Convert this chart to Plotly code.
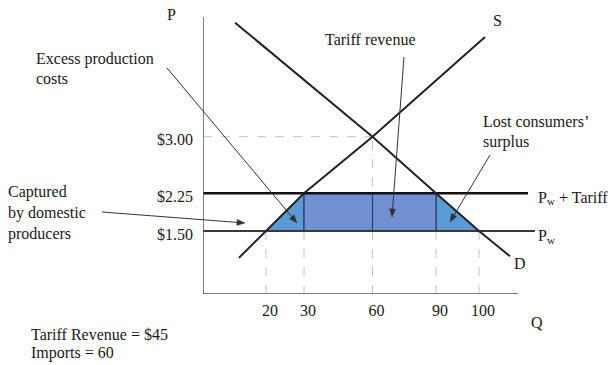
import numpy as np
import plotly.graph_objects as go

# ---------------- data (economic values) ----------------
quantity_ticks = [20, 30, 60, 90, 100]
quantity_labels = ["20", "30", "60", "90", "100"]
price_ticks = [1.50, 2.25, 3.00]
price_labels = ["$1.50", "$2.25", "$3.00"]

world_price = 1.50          # P_w
tariff_price = 2.25         # P_w + Tariff
equilibrium_q = 60
equilibrium_p = 3.00

domestic_q_world = 20       # domestic supply at P_w
domestic_q_tariff = 30      # domestic supply at P_w + Tariff
demand_q_tariff = 90        # demand at P_w + Tariff
demand_q_world = 100        # demand at P_w

supply_q = [11.4, 20, 30, 60, 101.4]
supply_p = [0.86, 1.50, 2.25, 3.00, 4.32]
demand_q = [10.2, 60, 90, 100, 107.2]
demand_p = [4.51, 3.00, 2.25, 1.50, 0.90]

price_line_end_q = [113, 111.4]   # right ends of the P_w and P_w+Tariff lines

# ---------------- schematic (non-uniform) scale of the original drawing ----------------
SCALE_Q = [0, 20, 30, 60, 90, 100]
SCALE_X = [0, 63, 101, 169.5, 233, 276]
SCALE_P = [0, 1.50, 2.25, 3.00]
SCALE_Y = [0, 63, 100.7, 157.3]

ORIGIN_X, ORIGIN_Y = 203, 294     # pixel of the axes origin
AXIS_X_LEN, AXIS_Y_LEN = 315, 277
X_RANGE = 340


def warp(v, src, dst):
    v = np.atleast_1d(np.asarray(v, dtype=float))
    out = np.interp(v, src, dst)
    hs = (dst[-1] - dst[-2]) / (src[-1] - src[-2])
    ls = (dst[1] - dst[0]) / (src[1] - src[0])
    hi = v > src[-1]
    lo = v < src[0]
    out[hi] = dst[-1] + (v[hi] - src[-1]) * hs
    out[lo] = dst[0] + (v[lo] - src[0]) * ls
    return out


def X(q):
    return warp(q, SCALE_Q, SCALE_X)


def Y(p):
    return warp(p, SCALE_P, SCALE_Y)


def to_paper(xp, yp):
    return (xp - ORIGIN_X) / X_RANGE, (ORIGIN_Y - yp) / AXIS_Y_LEN


FONT = "Liberation Serif, Times New Roman, serif"
FS = 16
TXT = "#1a1a1a"

fig = go.Figure()

# dashed guide lines
dash = dict(color="#c4c4c4", width=1, dash="dash")
guide_tops = [world_price, tariff_price, equilibrium_p, tariff_price, world_price]
for q, ptop in zip(quantity_ticks, guide_tops):
    fig.add_trace(go.Scatter(x=X([q, q]), y=Y([0, ptop]), mode="lines", line=dash,
                             hoverinfo="skip", showlegend=False))
fig.add_trace(go.Scatter(x=X([0, equilibrium_q]), y=Y([equilibrium_p, equilibrium_p]),
                         mode="lines", line=dash, hoverinfo="skip", showlegend=False))

# shaded areas
tri_col = "#5B9BD5"
rect_col = "#7190D3"
edge = "#2b3a66"
fig.add_trace(go.Scatter(
    x=X([domestic_q_world, domestic_q_tariff, domestic_q_tariff, domestic_q_world]),
    y=Y([world_price, tariff_price, world_price, world_price]),
    fill="toself", fillcolor=tri_col, mode="lines", line=dict(color=edge, width=1),
    hoverinfo="skip", showlegend=False))
fig.add_trace(go.Scatter(
    x=X([demand_q_tariff, demand_q_world, demand_q_tariff, demand_q_tariff]),
    y=Y([tariff_price, world_price, world_price, tariff_price]),
    fill="toself", fillcolor=tri_col, mode="lines", line=dict(color=edge, width=1),
    hoverinfo="skip", showlegend=False))
fig.add_trace(go.Scatter(
    x=X([domestic_q_tariff, demand_q_tariff, demand_q_tariff, domestic_q_tariff, domestic_q_tariff]),
    y=Y([world_price, world_price, tariff_price, tariff_price, world_price]),
    fill="toself", fillcolor=rect_col, mode="lines", line=dict(color=edge, width=1.2),
    hoverinfo="skip", showlegend=False))
fig.add_trace(go.Scatter(
    x=X([equilibrium_q, equilibrium_q]), y=Y([world_price, tariff_price]),
    mode="lines", line=dict(color=edge, width=1.2), hoverinfo="skip", showlegend=False))

# price lines
fig.add_trace(go.Scatter(x=X([0, price_line_end_q[0]]), y=Y([world_price, world_price]),
                         mode="lines", line=dict(color="#3a3a3a", width=2),
                         hoverinfo="skip", showlegend=False))
fig.add_trace(go.Scatter(x=X([0, price_line_end_q[1]]), y=Y([tariff_price, tariff_price]),
                         mode="lines", line=dict(color="#111111", width=2.5),
                         hoverinfo="skip", showlegend=False))

# supply and demand
fig.add_trace(go.Scatter(x=X(supply_q), y=Y(supply_p), mode="lines",
                         line=dict(color="#222222", width=2), name="S",
                         hoverinfo="skip", showlegend=False))
fig.add_trace(go.Scatter(x=X(demand_q), y=Y(demand_p), mode="lines",
                         line=dict(color="#222222", width=2), name="D",
                         hoverinfo="skip", showlegend=False))

# axes lines
fig.add_shape(type="line", xref="x", yref="y", x0=0, x1=AXIS_X_LEN, y0=0, y1=0,
              line=dict(color="#555555", width=1.5))
fig.add_shape(type="line", xref="x", yref="y", x0=0, x1=0, y0=0, y1=AXIS_Y_LEN,
              line=dict(color="#555555", width=1.5))

annotations = []


def label(text, xp, yp, xanchor="left", yanchor="middle", size=FS):
    x, y = to_paper(xp, yp)
    annotations.append(dict(text=text, x=x, y=y, xref="paper", yref="paper", showarrow=False,
                            xanchor=xanchor, yanchor=yanchor, align="left",
                            font=dict(family=FONT, size=size, color=TXT)))


ARROW_COL = "#333333"


def arrow(tail, head, head_len=8.0, head_half=3.0):
    """pointer line + filled arrow head (pixel positions of the picture)"""
    tx, ty = tail
    hx, hy = head
    d = np.array([hx - tx, hy - ty], dtype=float)
    d /= np.hypot(*d)
    n = np.array([-d[1], d[0]])
    base = np.array([hx, hy]) - d * head_len
    p1 = base + n * head_half
    p2 = base - n * head_half
    x0, y0 = to_paper(tx, ty)
    x1, y1 = to_paper(*(base + d * 1.0))
    fig.add_shape(type="line", xref="paper", yref="paper", x0=x0, y0=y0, x1=x1, y1=y1,
                  line=dict(color=ARROW_COL, width=1))
    pts = [to_paper(hx, hy), to_paper(*p1), to_paper(*p2)]
    path = "M {} {} L {} {} L {} {} Z".format(*[c for p in pts for c in p])
    fig.add_shape(type="path", xref="paper", yref="paper", path=path,
                  fillcolor=ARROW_COL, line=dict(color=ARROW_COL, width=0.5))


tariff = tariff_price - world_price
imports = demand_q_tariff - domestic_q_tariff
revenue = tariff * imports

label("P", 171, 14, xanchor="center")
label("Q", 537, 322, xanchor="center")
label("S", 497, 20, xanchor="center")
label("D", 520, 263, xanchor="center")
label("Excess production", 34, 59)
label("costs", 34, 78)
label("Tariff revenue", 370, 40, xanchor="center")
label("Lost consumers’", 481, 122)
label("surplus", 481, 142)
label("Captured", 6, 192)
label("by domestic", 6, 213)
label("producers", 6, 234)
# "P_w + Tariff" and "P_w" (subscript drawn as a smaller, lowered label)
label("P", 536, 197)
label("w", 545, 201.5, size=11)
label("+ Tariff", 557, 197)
label("P", 536, 235)
label("w", 545, 239.5, size=11)
label(f"Tariff Revenue = ${revenue:.0f}", 29, 334)
label(f"Imports = {imports}", 29, 353)

arrow((167, 68), (297, 223))
arrow((404, 57), (392, 217))
arrow((490, 155), (450, 222))
arrow((102, 212), (245, 223))

fig.update_layout(
    width=612, height=365,
    margin=dict(l=ORIGIN_X, r=612 - ORIGIN_X - X_RANGE, t=ORIGIN_Y - AXIS_Y_LEN, b=365 - ORIGIN_Y),
    paper_bgcolor="white", plot_bgcolor="white",
    annotations=annotations,
    xaxis=dict(range=[0, X_RANGE], showgrid=False, zeroline=False, showline=False,
               tickmode="array", tickvals=X(quantity_ticks), ticktext=quantity_labels,
               ticks="", tickfont=dict(family=FONT, size=FS, color=TXT),
               ticklabelstandoff=5, ticklabelshift=4, fixedrange=True),
    yaxis=dict(range=[0, AXIS_Y_LEN], showgrid=False, zeroline=False, showline=False,
               tickmode="array", tickvals=Y(price_ticks), ticktext=price_labels,
               ticks="", tickfont=dict(family=FONT, size=FS, color=TXT),
               ticklabelstandoff=9, ticklabelshift=3, fixedrange=True),
    showlegend=False,
)

fig.write_html("out.html", config={"displayModeBar": False},
               post_script="document.body.style.margin='0px';")
